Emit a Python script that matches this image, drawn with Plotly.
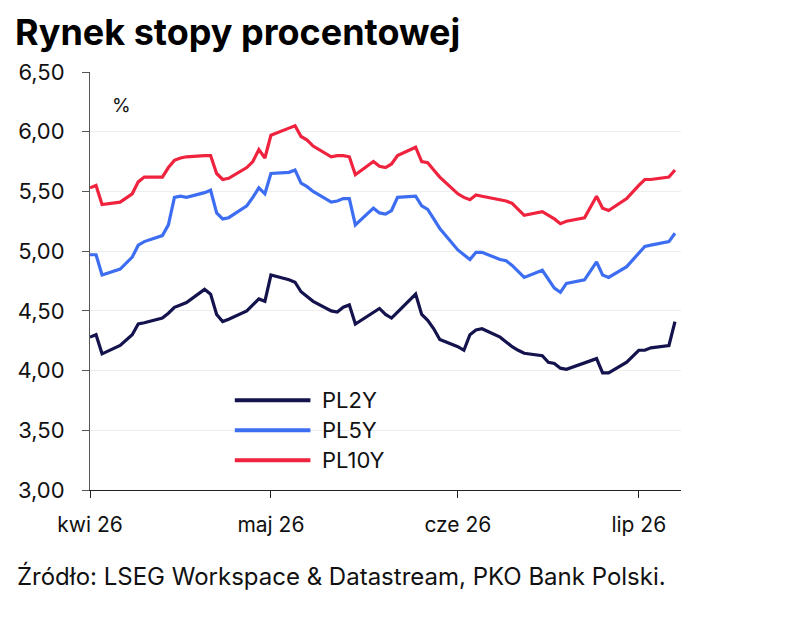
import plotly.graph_objects as go

dates = ["2026-04-01", "2026-04-02", "2026-04-03", "2026-04-06", "2026-04-08", "2026-04-09",
         "2026-04-10", "2026-04-13", "2026-04-14", "2026-04-15", "2026-04-16", "2026-04-17",
         "2026-04-20", "2026-04-21", "2026-04-22", "2026-04-23", "2026-04-24", "2026-04-27",
         "2026-04-28", "2026-04-29", "2026-04-30", "2026-05-01", "2026-05-04", "2026-05-05",
         "2026-05-06", "2026-05-07", "2026-05-08", "2026-05-11", "2026-05-12", "2026-05-13",
         "2026-05-14", "2026-05-15", "2026-05-18", "2026-05-19", "2026-05-20", "2026-05-21",
         "2026-05-22", "2026-05-25", "2026-05-26", "2026-05-27", "2026-05-28", "2026-05-29",
         "2026-06-01", "2026-06-02", "2026-06-03", "2026-06-04", "2026-06-05", "2026-06-08",
         "2026-06-09", "2026-06-10", "2026-06-11", "2026-06-12", "2026-06-15", "2026-06-16",
         "2026-06-17", "2026-06-18", "2026-06-19", "2026-06-22", "2026-06-23", "2026-06-24",
         "2026-06-25", "2026-06-26", "2026-06-29", "2026-06-30", "2026-07-01", "2026-07-02",
         "2026-07-03", "2026-07-06", "2026-07-07"]

pl2y = [4.28, 4.30, 4.14, 4.21, 4.30, 4.39,
        4.40, 4.44, 4.48, 4.53, 4.55, 4.57,
        4.68, 4.64, 4.47, 4.41, 4.43, 4.50,
        4.55, 4.60, 4.58, 4.80, 4.76, 4.74,
        4.66, 4.62, 4.58, 4.50, 4.49, 4.53,
        4.55, 4.39, 4.49, 4.52, 4.47, 4.44,
        4.49, 4.64, 4.47, 4.42, 4.35, 4.26,
        4.20, 4.17, 4.30, 4.34, 4.35, 4.28,
        4.24, 4.20, 4.17, 4.145, 4.125, 4.07,
        4.06, 4.02, 4.01, 4.06, 4.08, 4.10,
        3.98, 3.98, 4.07, 4.12, 4.17, 4.17,
        4.19, 4.21, 4.41]

pl5y = [4.97, 4.97, 4.80, 4.85, 4.95, 5.05,
        5.08, 5.13, 5.22, 5.45, 5.46, 5.45,
        5.49, 5.51, 5.32, 5.27, 5.28, 5.38,
        5.45, 5.53, 5.48, 5.65, 5.66, 5.68,
        5.57, 5.54, 5.50, 5.41, 5.42, 5.44,
        5.44, 5.22, 5.36, 5.32, 5.31, 5.34,
        5.45, 5.46, 5.38, 5.35, 5.27, 5.19,
        5.01, 4.97, 4.93, 4.99, 4.99, 4.93,
        4.92, 4.88, 4.83, 4.78, 4.84, 4.77,
        4.69, 4.655, 4.73, 4.76, 4.83, 4.91,
        4.80, 4.78, 4.87, 4.93, 4.98, 5.04,
        5.05, 5.08, 5.15]

pl10y = [5.53, 5.55, 5.39, 5.41, 5.48, 5.58,
         5.62, 5.62, 5.70, 5.76, 5.78, 5.79,
         5.80, 5.80, 5.65, 5.60, 5.61, 5.70,
         5.75, 5.85, 5.78, 5.97, 6.03, 6.05,
         5.96, 5.93, 5.88, 5.79, 5.80, 5.80,
         5.79, 5.64, 5.75, 5.71, 5.70, 5.73,
         5.80, 5.87, 5.75, 5.74, 5.68, 5.62,
         5.48, 5.45, 5.43, 5.47, 5.46, 5.43,
         5.42, 5.40, 5.35, 5.30, 5.33, 5.30,
         5.27, 5.23, 5.25, 5.28, 5.37, 5.46,
         5.36, 5.34, 5.44, 5.50, 5.55, 5.60,
         5.60, 5.62, 5.68]

series_names = ["PL2Y", "PL5Y", "PL10Y"]
series_colors = ["#15134d", "#3d6ef2", "#f0233f"]
series_values = [pl2y, pl5y, pl10y]

month_ticks = ["2026-04-01", "2026-05-01", "2026-06-01", "2026-07-01"]
month_labels = ["kwi 26", "maj 26", "cze 26", "lip 26"]
y_ticks = [3.0, 3.5, 4.0, 4.5, 5.0, 5.5, 6.0, 6.5]

FONT = "Inter"
TXT = "#111111"

fig = go.Figure()
for name, color, vals in zip(series_names, series_colors, series_values):
    fig.add_trace(go.Scatter(x=dates, y=vals, name=name, mode="lines",
                             line=dict(color=color, width=3.2), showlegend=False))

# custom legend (long line samples like the original)
leg_x0, leg_x1, leg_tx = 0.245, 0.373, 0.39
leg_y = [0.215, 0.143, 0.071]
for name, color, yy in zip(series_names, series_colors, leg_y):
    fig.add_shape(type="line", xref="paper", yref="paper", x0=leg_x0, x1=leg_x1, y0=yy, y1=yy,
                  line=dict(color=color, width=4))
    fig.add_annotation(xref="paper", yref="paper", x=leg_tx, y=yy, text=name, showarrow=False,
                       xanchor="left", yanchor="middle", font=dict(size=22, color=TXT, family=FONT))

fig.add_annotation(xref="paper", yref="paper", x=0.054, y=0.92, text="%", showarrow=False,
                   xanchor="center", yanchor="middle", font=dict(size=19, color=TXT, family=FONT))

fig.add_annotation(xref="paper", yref="paper", x=-0.127, y=-0.206, xanchor="left", yanchor="middle",
                   text="Źródło: LSEG Workspace & Datastream, PKO Bank Polski.", showarrow=False,
                   font=dict(size=24, family=FONT, color=TXT))

fig.update_layout(
    width=793, height=643,
    margin=dict(l=90, r=112, t=72, b=153),
    paper_bgcolor="white", plot_bgcolor="white",
    separators=", ",
    font=dict(family=FONT, color=TXT, size=20),
    title=dict(text="<b>Rynek stopy procentowej</b>", x=0.019, xanchor="left",
               y=0.949, yanchor="middle", font=dict(size=36, family=FONT, color="#000", weight=800)),
)

fig.update_xaxes(range=["2026-04-01", "2026-07-08"], tickvals=month_ticks, ticktext=month_labels,
                 showgrid=False, showline=True, linecolor="#222", linewidth=1,
                 ticks="outside", ticklen=7, tickcolor="#222", zeroline=False,
                 ticklabelstandoff=9,
                 tickfont=dict(size=21, family=FONT, color=TXT))
fig.update_yaxes(range=[3.0, 6.5], tickvals=y_ticks, tickformat=".2f",
                 showgrid=True, gridcolor="#ededed", gridwidth=1,
                 showline=True, linecolor="#555", linewidth=1,
                 ticks="outside", ticklen=7, tickcolor="#555", zeroline=False,
                 ticklabelstandoff=13,
                 tickfont=dict(size=22, family=FONT, color=TXT))

fig.write_html("out.html")
